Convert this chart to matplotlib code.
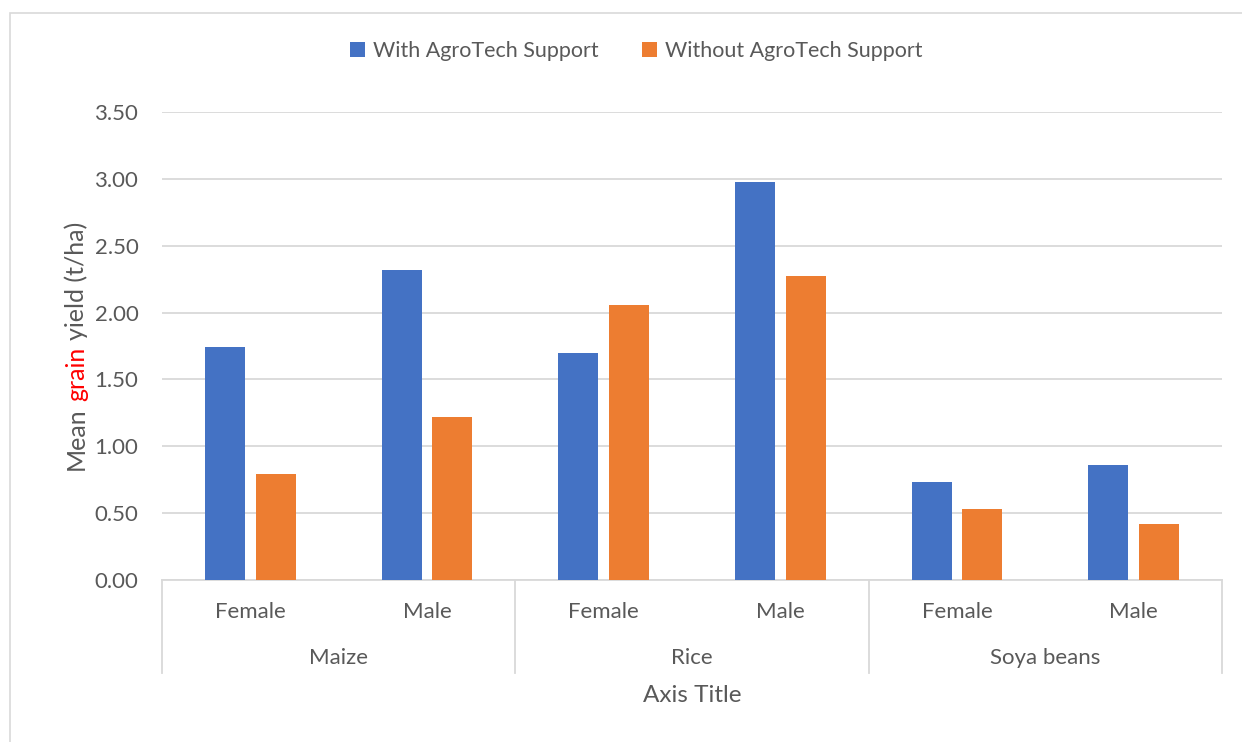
import matplotlib
matplotlib.use("Agg")
import matplotlib.pyplot as plt
import matplotlib.transforms as mtransforms
import numpy as np
from matplotlib.patches import Rectangle

plt.rcParams["font.family"] = ["Lato", "DejaVu Sans"]

crops = ["Maize", "Rice", "Soya beans"]
sexes = ["Female", "Male"]
with_support = [1.74, 2.32, 1.70, 2.98, 0.73, 0.86]
without_support = [0.79, 1.22, 2.06, 2.27, 0.53, 0.42]
series_names = ["With AgroTech Support", "Without AgroTech Support"]
y_ticks = [0.0, 0.5, 1.0, 1.5, 2.0, 2.5, 3.0, 3.5]

BLUE = "#4472C4"
ORANGE = "#ED7D31"
TEXT = "#595959"
GRID = "#D9D9D9"
FS = 16

W, H = 1242, 742
fig = plt.figure(figsize=(W / 100, H / 100), dpi=100)
ax = fig.add_axes([162 / W, 1 - 580 / H, (1222 - 162) / W, (580 - 112) / H])

x = np.arange(len(crops) * len(sexes))
bar_w = 40 / 176.7
gap = 11 / 176.7
off = (bar_w + gap) / 2
ax.bar(x - off, with_support, bar_w, color=BLUE, label=series_names[0], zorder=3)
ax.bar(x + off, without_support, bar_w, color=ORANGE, label=series_names[1], zorder=3)

ax.set_xlim(-0.5, len(x) - 0.5)
ax.set_ylim(0, 3.5)
ax.set_yticks(y_ticks)
ax.set_yticklabels([f"{v:.2f}" for v in y_ticks])
ax.yaxis.grid(True, color=GRID, linewidth=1.3, zorder=0)
ax.tick_params(axis="y", length=0, pad=17, labelsize=FS, labelcolor=TEXT)
for s in ["top", "right", "left"]:
    ax.spines[s].set_visible(False)
ax.spines["bottom"].set_color(GRID)
ax.spines["bottom"].set_linewidth(1.3)

# inner category labels (sex) as tick labels
ax.set_xticks(x)
ax.set_xticklabels(sexes * len(crops))
ax.tick_params(axis="x", length=0, pad=16, labelsize=FS, labelcolor=TEXT)

# outer category level: separators and crop names
trans = mtransforms.blended_transform_factory(ax.transData, ax.transAxes)
depth = -(673 - 580) / (580 - 112)
for b in np.arange(-0.5, len(x), len(sexes)):
    ax.plot([b, b], [0, depth], color=GRID, linewidth=1.3, transform=trans, clip_on=False)
for i, crop in enumerate(crops):
    cx = i * len(sexes) + (len(sexes) - 1) / 2
    ax.text(cx, -(658 - 580) / (580 - 112), crop, transform=trans, ha="center", va="center",
            fontsize=FS, color=TEXT)

ax.text(0.5, -(695 - 580) / (580 - 112), "Axis Title", transform=ax.transAxes, ha="center",
        va="center", fontsize=FS + 1.5, color=TEXT)

# y label with one coloured word
renderer = fig.canvas.get_renderer()
prop = matplotlib.font_manager.FontProperties(family=plt.rcParams["font.family"], size=FS + 2)


def text_len(s):
    w, _, _ = renderer.get_text_width_height_descent(s, prop, ismath=False)
    return w


full = "Mean grain yield (t/ha)"
parts = [("Mean", TEXT, 0.0),
         ("grain", "#FF0000", text_len("Mean grain") - text_len("grain")),
         ("yield (t/ha)", TEXT, text_len(full) - text_len("yield (t/ha)"))]
y_center = H - 346
y_start = y_center - text_len(full) / 2
x_base = 84
for s, c, o in parts:
    fig.text(x_base / W, (y_start + o) / H, s, rotation=90, rotation_mode="anchor",
             ha="left", va="baseline", color=c, fontproperties=prop)

fig.legend(loc="center", bbox_to_anchor=(636 / W, 1 - 51 / H), ncol=2, frameon=False,
           fontsize=FS - 0.5, labelcolor=TEXT, handlelength=0.72, handleheight=0.72,
           handletextpad=0.35, columnspacing=2.0)

fig.add_artist(Rectangle((10 / W, -0.1), 1.2, 1.1 - 13 / H, transform=fig.transFigure,
                         fill=False, edgecolor=GRID, linewidth=1.2))

fig.savefig("out.png", dpi=100)
